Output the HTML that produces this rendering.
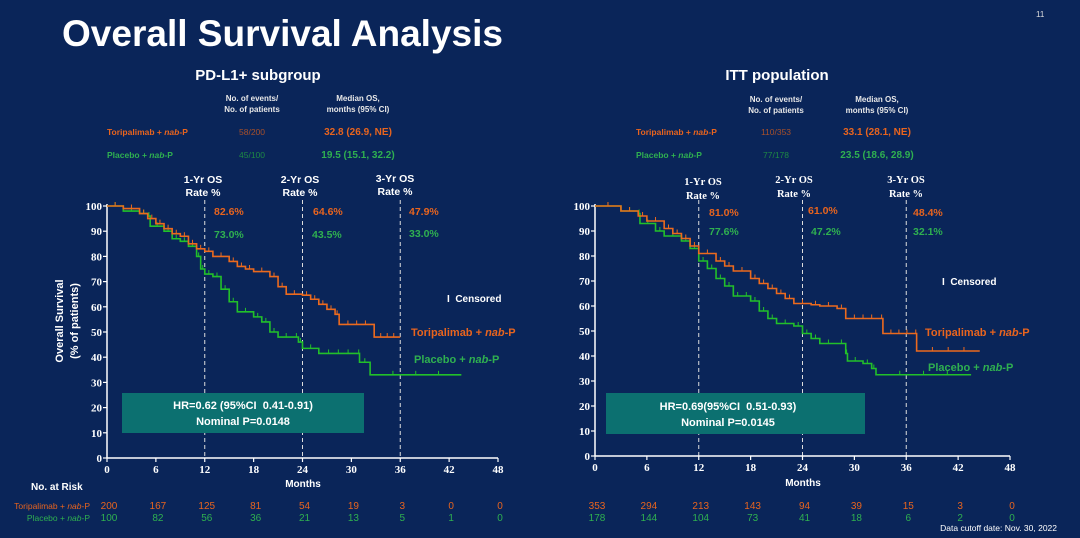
<!DOCTYPE html>
<html><head><meta charset="utf-8"><style>
html,body{margin:0;padding:0;background:#0a2559;}
svg{display:block;}
.sans{font-family:"Liberation Sans",sans-serif;}
.serif{font-family:"Liberation Serif",serif;}
</style></head><body>
<svg id="s" width="1080" height="538" viewBox="0 0 1080 538" xmlns="http://www.w3.org/2000/svg">
<rect width="1080" height="538" fill="#0a2559"/>
<g id="charts"></g>
<g class="sans" font-weight="bold" fill="#fff">
<text x="62" y="46" font-size="37" textLength="441" lengthAdjust="spacingAndGlyphs">Overall Survival Analysis</text>
<text x="1036" y="17" font-size="8" font-weight="normal" fill="#ddd">11</text>
<text x="258" y="80" font-size="15" text-anchor="middle">PD-L1+ subgroup</text>
<text x="777" y="80" font-size="15" text-anchor="middle">ITT population</text>
<g font-size="8" text-anchor="middle" fill="#e8e8e8">
<text x="252" y="101">No. of events/</text><text x="252" y="112">No. of patients</text>
<text x="358" y="101">Median OS,</text><text x="358" y="112">months (95% CI)</text>
<text x="776" y="102">No. of events/</text><text x="776" y="113">No. of patients</text>
<text x="877" y="102">Median OS,</text><text x="877" y="113">months (95% CI)</text>
</g>
<g font-size="8.5">
<text x="107" y="135" fill="#e8641e">Toripalimab + <tspan font-style="italic">nab</tspan>-P</text>
<text x="252" y="135" fill="#a8502a" font-weight="normal" text-anchor="middle">58/200</text>
<text x="358" y="135" fill="#e8641e" text-anchor="middle" font-size="10">32.8 (26.9, NE)</text>
<text x="107" y="158" fill="#2fb050">Placebo + <tspan font-style="italic">nab</tspan>-P</text>
<text x="252" y="158" fill="#1e8a44" font-weight="normal" text-anchor="middle">45/100</text>
<text x="358" y="158" fill="#2fb050" text-anchor="middle" font-size="10">19.5 (15.1, 32.2)</text>
<text x="636" y="135" fill="#e8641e">Toripalimab + <tspan font-style="italic">nab</tspan>-P</text>
<text x="776" y="135" fill="#a8502a" font-weight="normal" text-anchor="middle">110/353</text>
<text x="877" y="135" fill="#e8641e" text-anchor="middle" font-size="10">33.1 (28.1, NE)</text>
<text x="636" y="158" fill="#2fb050">Placebo + <tspan font-style="italic">nab</tspan>-P</text>
<text x="776" y="158" fill="#1e8a44" font-weight="normal" text-anchor="middle">77/178</text>
<text x="877" y="158" fill="#2fb050" text-anchor="middle" font-size="10">23.5 (18.6, 28.9)</text>
</g>
<g font-size="10.5" text-anchor="middle">
<text x="203" y="183">1-Yr OS</text><text x="203" y="196">Rate %</text>
<text x="300" y="183">2-Yr OS</text><text x="300" y="196">Rate %</text>
<text x="395" y="182">3-Yr OS</text><text x="395" y="195">Rate %</text>
</g>
<g font-size="10.5">
<text x="214" y="215" fill="#e8641e">82.6%</text><text x="214" y="238" fill="#2fb050">73.0%</text>
<text x="313" y="215" fill="#e8641e">64.6%</text><text x="312" y="238" fill="#2fb050">43.5%</text>
<text x="409" y="215" fill="#e8641e">47.9%</text><text x="409" y="237" fill="#2fb050">33.0%</text>
<text x="447" y="302" font-size="10">I&#160; Censored</text>
<text x="411" y="336" fill="#e8641e" font-size="11">Toripalimab + <tspan font-style="italic">nab</tspan>-P</text>
<text x="414" y="363" fill="#2fb050" font-size="11">Placebo + <tspan font-style="italic">nab</tspan>-P</text>
</g>
<g class="serif" font-size="10.5" text-anchor="middle">
<text x="703" y="185">1-Yr OS</text><text x="703" y="199">Rate %</text>
<text x="794" y="183">2-Yr OS</text><text x="794" y="197">Rate %</text>
<text x="906" y="183">3-Yr OS</text><text x="906" y="197">Rate %</text>
</g>
<g font-size="10.5">
<text x="709" y="216" fill="#e8641e">81.0%</text><text x="709" y="235" fill="#2fb050">77.6%</text>
<text x="808" y="214" fill="#e8641e">61.0%</text><text x="811" y="235" fill="#2fb050">47.2%</text>
<text x="913" y="216" fill="#e8641e">48.4%</text><text x="913" y="235" fill="#2fb050">32.1%</text>
<text x="942" y="285" font-size="10">I&#160; Censored</text>
<text x="925" y="336" fill="#e8641e" font-size="11">Toripalimab + <tspan font-style="italic">nab</tspan>-P</text>
<text x="928" y="371" fill="#2fb050" font-size="11">Placebo + <tspan font-style="italic">nab</tspan>-P</text>
</g>
<rect x="122" y="393" width="242" height="40" fill="#0c7070"/>
<text x="243" y="409" font-size="11" text-anchor="middle">HR=0.62 (95%CI&#160; 0.41-0.91)</text>
<text x="243" y="425" font-size="11" text-anchor="middle">Nominal P=0.0148</text>
<rect x="606" y="393" width="259" height="41" fill="#0c7070"/>
<text x="728" y="410" font-size="11" text-anchor="middle">HR=0.69(95%CI&#160; 0.51-0.93)</text>
<text x="728" y="426" font-size="11" text-anchor="middle">Nominal P=0.0145</text>
<text transform="translate(63,321) rotate(-90)" font-size="11" text-anchor="middle">Overall Survival</text>
<text transform="translate(78,321) rotate(-90)" font-size="11" text-anchor="middle">(% of patients)</text>
<text x="303" y="487" font-size="10" text-anchor="middle">Months</text>
<text x="803" y="486" font-size="10" text-anchor="middle">Months</text>
<text x="31" y="490" font-size="10">No. at Risk</text>
<g font-size="8.5" font-weight="normal">
<text x="90" y="509" text-anchor="end" fill="#e8641e">Toripalimab + <tspan font-style="italic">nab</tspan>-P</text>
<text x="90" y="521" text-anchor="end" fill="#2fb050">Placebo + <tspan font-style="italic">nab</tspan>-P</text>
<text x="1057" y="531" text-anchor="end" fill="#fff" font-size="8.5">Data cutoff date: Nov. 30, 2022</text>
</g>
</g>
</svg>
<script>
var NS="http://www.w3.org/2000/svg",G=document.getElementById("charts");
function el(t,a,txt){var e=document.createElementNS(NS,t);for(var k in a)e.setAttribute(k,a[k]);if(txt!=null)e.textContent=txt;G.appendChild(e);return e;}
function chart(x0,x48,y100,y0,orange,green,riskO,riskG,dashTop){
 var sx=function(m){return x0+m*(x48-x0)/48},sy=function(p){return y0-p*(y0-y100)/100};
 [12,24,36].forEach(function(m){el("line",{x1:sx(m),x2:sx(m),y1:dashTop,y2:y0,stroke:"#ddd","stroke-width":1,"stroke-dasharray":"4,3"});});
 el("line",{x1:x0,x2:x0,y1:y100-2,y2:y0,stroke:"#fff","stroke-width":1.5});
 el("line",{x1:x0,x2:x48,y1:y0,y2:y0,stroke:"#fff","stroke-width":1.5});
 for(var p=0;p<=100;p+=10){el("line",{x1:x0-4,x2:x0,y1:sy(p),y2:sy(p),stroke:"#fff","stroke-width":1.2});
  el("text",{x:x0-5,y:sy(p)+4,"font-size":11,"font-family":"Liberation Serif,serif","font-weight":"bold",fill:"#fff","text-anchor":"end"},p);}
 for(var m=0;m<=48;m+=6){el("line",{x1:sx(m),x2:sx(m),y1:y0,y2:y0+4,stroke:"#fff","stroke-width":1.2});
  el("text",{x:sx(m),y:y0+15,"font-size":11,"font-family":"Liberation Serif,serif","font-weight":"bold",fill:"#fff","text-anchor":"middle"},m);
  var i=m/6;
  el("text",{x:sx(m)+2,y:509,"font-size":10,"font-family":"Liberation Sans,sans-serif",fill:"#e8641e","text-anchor":"middle"},riskO[i]);
  el("text",{x:sx(m)+2,y:521,"font-size":10,"font-family":"Liberation Sans,sans-serif",fill:"#2fb050","text-anchor":"middle"},riskG[i]);}
 function curve(d,c){var s="M"+sx(d[0][0])+","+sy(d[0][1]);
  for(var i=1;i<d.length;i++){s+=" H"+sx(d[i][0])+" V"+sy(d[i][1]);}
  el("path",{d:s,fill:"none",stroke:c,"stroke-width":1.6});
  for(var i=0;i<d.length-1;i++){var a=d[i],b=d[i+1];var n=(b[0]-a[0])>3?3:1;
   for(var k=1;k<=n;k++){var mm=a[0]+(b[0]-a[0])*k/(n+1);el("line",{x1:sx(mm),x2:sx(mm),y1:sy(a[1])-4,y2:sy(a[1]),stroke:c,"stroke-width":1});}}}
 curve(green,"#22c02a");curve(orange,"#ec6a1e");
}
chart(107,498,206,458,
[[0,100],[2,99],[4,97],[5,95],[6,93],[7,91],[8,89],[9,88],[10,85],[11,83],[12,82],[13,80],[15,78],[16,76],[17,75],[18,74],[20,72],[21,68],[22,65],[24,64.6],[25,63],[26,61],[27,59],[28,57],[28.5,53],[32.8,48],[36,48]],
[[0,100],[2,98],[4,97],[5,96],[5.3,92],[7,90],[8,87],[9,86],[10,84],[11,80],[11.5,75],[12,73],[13,72],[14,67],[15,62],[16,58],[18,56],[19,54],[20,50],[21,48],[23,48],[23.5,46],[24,43.5],[26,41.5],[30.8,41.5],[31,38],[32.3,33],[43.5,33]],
[200,167,125,81,54,19,3,0,0],[100,82,56,36,21,13,5,1,0],200);
chart(595,1010,206,456,
[[0,100],[3,98],[5,96],[6,94],[8,91],[9,89],[10,87],[11,84],[12,81],[14,78],[15,76],[16,74],[18,71],[19,69],[20,67],[21,65],[22,63],[23,61],[25,60.5],[26,60],[28,59],[29,55],[33,55],[33.3,49],[37,49],[37.2,42],[44.5,42]],
[[0,100],[3,98],[5,97],[5.2,93],[7,90],[8,88],[10,86],[11,83],[12,78],[13,75],[14,71],[15,68],[16,64],[17,64],[18,62],[19,58],[20,55],[21,53],[23,52],[24,49],[25,47],[26,45],[28,45],[29,41],[29.2,38],[31,37],[32,35],[32.5,32.5],[43.5,32.5]],
[353,294,213,143,94,39,15,3,0],[178,144,104,73,41,18,6,2,0],200);
</script>
</body></html>
